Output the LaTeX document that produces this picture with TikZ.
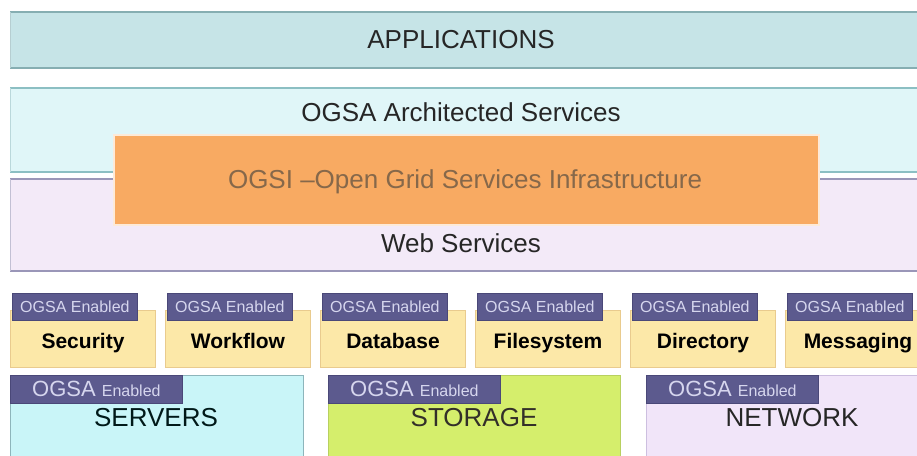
\documentclass[tikz,border=0pt]{standalone}
\usepackage{fontspec}
\setmainfont{Liberation Sans}
\definecolor{appfill}{HTML}{C6E4E7}
\definecolor{appline}{HTML}{86AEB2}
\definecolor{archfill}{HTML}{E0F6F8}
\definecolor{archline}{HTML}{8CBFC3}
\definecolor{webfill}{HTML}{F3EAF8}
\definecolor{webline}{HTML}{9A96B8}
\definecolor{ogsifill}{HTML}{F8AA62}
\definecolor{ogsitext}{HTML}{86684A}
\definecolor{svcfill}{HTML}{FCE8A8}
\definecolor{svcline}{HTML}{E9CB8E}
\definecolor{tagfill}{HTML}{5C5A8E}
\definecolor{tagline}{HTML}{4A4878}
\definecolor{tagtext}{HTML}{D6D6EE}
\definecolor{srvfill}{HTML}{C9F5F8}
\definecolor{srvline}{HTML}{8DB5BB}
\definecolor{stofill}{HTML}{D5EE6C}
\definecolor{stoline}{HTML}{B8D060}
\definecolor{netfill}{HTML}{F1E5F9}
\definecolor{netline}{HTML}{CDBFE0}
\begin{document}
\begin{tikzpicture}[x=1pt,y=-1pt,
  biglbl/.style={font=\fontsize{26}{28}\selectfont, text=black!85, inner sep=0},
  svcbox/.style={fill=svcfill, draw=svcline, line width=1pt, minimum width=145pt,
    minimum height=57pt, inner sep=0, anchor=north west, text=black,
    font=\bfseries\fontsize{21}{24}\selectfont, text depth=0pt},
  tagsmall/.style={fill=tagfill, draw=tagline, line width=0.8pt, text=tagtext,
    font=\fontsize{16}{18}\selectfont, minimum width=125pt, minimum height=27pt,
    inner sep=0, anchor=north west},
  tagbig/.style={fill=tagfill, draw=tagline, line width=0.8pt, text=tagtext,
    font=\fontsize{22}{24}\selectfont, minimum width=172pt, minimum height=28pt,
    inner sep=0, anchor=north west},
  hwbox/.style={line width=1pt, minimum height=100pt, inner sep=0, anchor=north west}
]
\useasboundingbox (0,0) rectangle (917,455);
\clip (0,0) rectangle (917,455);
\fill[white] (0,0) rectangle (917,455);

% layered bands
\fill[appfill] (10,12) rectangle (920,68);
\draw[appline, line width=2pt] (10,12) -- (920,12) (10,68) -- (920,68);
\draw[appline!60, line width=0.8pt] (10,12) -- (10,68);
\node[biglbl] (apps) at (461,40) {APPLICATIONS};

\fill[archfill] (10,88) rectangle (920,172);
\draw[archline, line width=2pt] (10,88) -- (920,88) (10,172) -- (920,172);
\draw[archline!60, line width=0.8pt] (10,88) -- (10,172);
\node[biglbl] (arch) at (461,112) {OGSA Architected Services};

\fill[webfill] (10,179) rectangle (920,271);
\draw[webline, line width=2pt] (10,179) -- (920,179) (10,271) -- (920,271);
\draw[webline!60, line width=0.8pt] (10,179) -- (10,271);
\node[biglbl] (web) at (461,243) {Web Services};

% OGSI core block
\node[fill=ogsifill, draw=white!75!ogsifill, line width=2pt, minimum width=705pt,
  minimum height=90pt, anchor=north west, inner sep=0] (ogsibox) at (113,134) {};
\node[biglbl, text=ogsitext] (ogsi) at (465,182) {OGSI --Open Grid Services Infrastructure};

% OGSA enabled services
\foreach \i/\nm/\txt in {0/sec/Security,1/wf/Workflow,2/db/Database,3/fs/Filesystem,4/dir/Directory,5/msg/Messaging}{
  \node[svcbox] (\nm) at ({10+155*\i},310) {\raisebox{-3pt}{\txt}};
  \node[tagsmall] (\nm tag) at ({12+155*\i},293) {OGSA Enabled};
}

% OGSA enabled resources
\node[hwbox, fill=srvfill, draw=srvline, minimum width=293pt] (srv) at (10,375) {};
\node[biglbl, text=black!80!teal] (srvlbl) at (156,418) {SERVERS};
\node[tagbig] (srvtag) at (10,375) {OGSA {\fontsize{16}{18}\selectfont Enabled}};

\node[hwbox, fill=stofill, draw=stoline, minimum width=292pt] (sto) at (328,375) {};
\node[biglbl, text=black!85!olive] (stolbl) at (474,418) {STORAGE};
\node[tagbig] (stotag) at (328,375) {OGSA {\fontsize{16}{18}\selectfont Enabled}};

\node[hwbox, fill=netfill, draw=netline, minimum width=290pt] (net) at (646,375) {};
\node[biglbl] (netlbl) at (792,418) {NETWORK};
\node[tagbig] (nettag) at (646,375) {OGSA {\fontsize{16}{18}\selectfont Enabled}};
\end{tikzpicture}
\end{document}
